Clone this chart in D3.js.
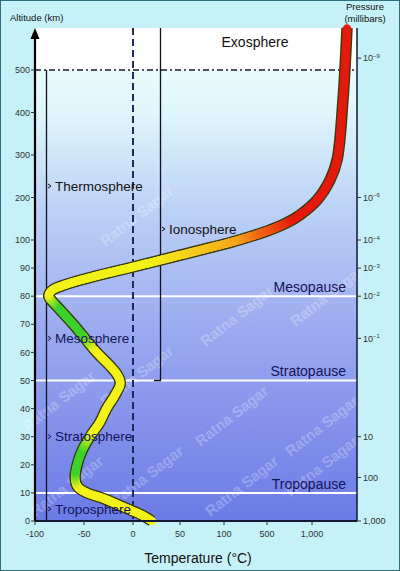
<!DOCTYPE html>
<html>
<head>
<meta charset="utf-8">
<script src="https://cdn.jsdelivr.net/npm/d3@7"></script>
<style>
  body { margin: 0; background: #fff; }
  svg { display: block; font-family: "Liberation Sans", Arial, sans-serif; }
</style>
</head>
<body>
<svg id="chart" width="400" height="571"></svg>
<script>
const width = 400;
const height = 571;

// altitude axis (km)
const altTicks = [0, 10, 20, 30, 40, 50, 60, 70, 80, 90, 100, 200, 300, 400, 500];
// temperature axis (deg C)
const tempTicks = [-100, -50, 0, 50, 100, 500, 1000];
const tempLabels = ["-100", "-50", "0", "50", "100", "500", "1,000"];
// pressure labels (right side) and the altitude they sit at
const pressureAlt = [0, 15.5, 30, 65, 80, 90, 100, 200, 528];
const pressureBase = ["1,000", "100", "10", "10", "10", "10", "10", "10", "10"];
const pressureExp = ["", "", "", "−1", "−2", "−3", "−4", "−6", "−9"];

// temperature profile
const profileAlt = [0, 2, 5, 8, 10, 12, 15, 20, 25, 30, 35, 40, 45, 49, 52, 55, 60, 65, 70, 75, 78, 80, 82, 84, 87, 90.4, 96.4, 99.4, 121, 140.7, 159, 194, 241, 288, 429, 599];
const profileTemp = [20, 10, -10, -30, -47, -56, -59, -57, -52, -44, -34, -27, -18, -13, -16, -23, -37, -49, -61, -74, -82, -86, -83, -70, -40, 0, 73, 184, 500, 722, 867, 1056, 1200, 1278, 1344, 1389];

// layer names
const sphereNames = ["Thermosphere", "Mesosphere", "Stratosphere", "Troposphere"];
const sphereAlt = [227, 65, 30, 4.3];
const pauseNames = ["Mesopause", "Stratopause", "Tropopause"];
const pauseAlt = [80, 50, 10];

const svg = d3.select("#chart");

// non linear scales like the original drawing
const y = d3.scaleLinear().domain([0, 100, 500]).range([521, 240, 70]);
const x = d3.scaleLinear().domain([-100, 0, 50, 100, 500, 1000]).range([35, 133, 180, 224, 267, 312]);

const plotLeft = x(-100), plotRight = 357, plotTop = 28, plotBottom = y(0);

// background
svg.append("rect").attr("width", width).attr("height", height).attr("fill", "#c6f1f8");
svg.append("rect").attr("x", 0.5).attr("y", 0.5).attr("width", width - 1).attr("height", height - 1)
    .attr("fill", "none").attr("stroke", "#2d6f7c");

const defs = svg.append("defs");
const grad = defs.append("linearGradient").attr("id", "sky")
    .attr("x1", 0).attr("y1", 0).attr("x2", 0).attr("y2", 1);
[[0, "#eafcfd"], [0.1, "#def5fb"], [0.3, "#bdd3f5"], [0.55, "#9eaef0"], [0.8, "#8290ea"], [1, "#6b7be6"]]
    .forEach(function(s){ grad.append("stop").attr("offset", s[0]).attr("stop-color", s[1]); });

svg.append("rect").attr("x", plotLeft).attr("y", y(500)).attr("width", plotRight - plotLeft).attr("height", plotBottom - y(500))
    .attr("fill", "url(#sky)");
svg.append("rect").attr("x", plotLeft).attr("y", plotTop).attr("width", plotRight - plotLeft).attr("height", y(500) - plotTop)
    .attr("fill", "#ffffff");

// watermark
const marks = [[140, 220], [240, 320], [330, 300], [62, 405], [140, 380], [235, 420], [325, 430], [70, 490], [150, 480], [245, 490], [325, 470]];
svg.append("g").selectAll("text").data(marks).enter().append("text")
    .attr("transform", function(d){ return `translate(${d[0]},${d[1]}) rotate(-38)`; })
    .attr("text-anchor", "middle")
    .attr("font-size", 15).attr("font-weight", "bold")
    .attr("fill", "#ffffff").attr("opacity", 0.25)
    .text("Ratna Sagar");

// white pause lines
svg.append("g").selectAll("line").data(pauseAlt).enter().append("line")
    .attr("x1", plotLeft).attr("x2", plotRight)
    .attr("y1", function(d){ return y(d); }).attr("y2", function(d){ return y(d); })
    .attr("stroke", "#ffffff").attr("stroke-width", 2);

// 500 km dash-dot line
svg.append("line").attr("x1", plotLeft).attr("x2", plotRight).attr("y1", y(500)).attr("y2", y(500))
    .attr("stroke", "#1a1a2a").attr("stroke-width", 1.3).attr("stroke-dasharray", "6,3,2,3");

// 0 deg dashed line
svg.append("line").attr("x1", x(0)).attr("x2", x(0)).attr("y1", plotTop).attr("y2", plotBottom)
    .attr("stroke", "#1f2a5c").attr("stroke-width", 2).attr("stroke-dasharray", "7,4");

// sphere bracket line
svg.append("line").attr("x1", 46.5).attr("x2", 46.5).attr("y1", y(500)).attr("y2", plotBottom)
    .attr("stroke", "#111122").attr("stroke-width", 1.3);

// ionosphere bracket
svg.append("path")
    .attr("d", `M160.5,${plotTop} V${y(50)} H154`)
    .attr("fill", "none").attr("stroke", "#111122").attr("stroke-width", 1.3);

// temperature curve
const line = d3.line()
    .x(function(d){ return x(d[0]); })
    .y(function(d){ return y(d[1]); })
    .curve(d3.curveCatmullRom.alpha(0.5));
const pts = profileTemp.map(function(t, i){ return [t, profileAlt[i]]; });

svg.append("path").attr("d", line(pts)).attr("fill", "none")
    .attr("stroke", "#3a3a10").attr("stroke-width", 11.5).attr("stroke-linecap", "butt");

const ghost = svg.append("path").attr("d", line(pts)).attr("fill", "none").attr("stroke", "none");
const total = ghost.node().getTotalLength();
const colorByAlt = d3.scaleLinear()
    .domain([0, 13, 18, 26, 32, 62, 67, 77, 81, 92, 100, 115, 150, 600])
    .range(["#f2f21a", "#f2f21a", "#3cd22a", "#3cd22a", "#f2f21a", "#f2f21a", "#3cd22a", "#3cd22a", "#f2f21a", "#f2f21a", "#f7a51c", "#f26a12", "#e41a0c", "#e41a0c"]);
const samples = d3.range(0, total + 1, 2).map(function(l){ return ghost.node().getPointAtLength(Math.min(l, total)); });
const seg = svg.append("g");
for (let i = 0; i < samples.length - 1; i++) {
    const a = samples[i], b = samples[i + 1];
    seg.append("line").attr("x1", a.x).attr("y1", a.y).attr("x2", b.x).attr("y2", b.y)
        .attr("stroke", colorByAlt(y.invert((a.y + b.y) / 2)))
        .attr("stroke-width", 8.5).attr("stroke-linecap", "round");
}

// axes lines
svg.append("line").attr("x1", plotLeft).attr("x2", plotRight).attr("y1", plotBottom).attr("y2", plotBottom)
    .attr("stroke", "#151535").attr("stroke-width", 2);
svg.append("line").attr("x1", plotRight).attr("x2", plotRight).attr("y1", plotTop).attr("y2", plotBottom)
    .attr("stroke", "#151535").attr("stroke-width", 1.5);
svg.append("line").attr("x1", plotLeft).attr("x2", plotLeft).attr("y1", plotTop + 8).attr("y2", plotBottom)
    .attr("stroke", "#000000").attr("stroke-width", 2.2);
svg.append("path").attr("d", `M${plotLeft},${plotTop} L${plotLeft - 4.5},${plotTop + 11} L${plotLeft + 4.5},${plotTop + 11} Z`)
    .attr("fill", "#000000");

// altitude ticks
const yTicks = svg.append("g");
altTicks.forEach(function(a){
    yTicks.append("line").attr("x1", plotLeft - 4).attr("x2", plotLeft).attr("y1", y(a)).attr("y2", y(a))
        .attr("stroke", "#333").attr("stroke-width", 1);
    yTicks.append("text").attr("x", plotLeft - 5).attr("y", y(a)).attr("dy", "0.35em")
        .attr("text-anchor", "end").attr("font-size", 9).attr("fill", "#333").text(a);
});

// temperature ticks
const xTicks = svg.append("g");
tempTicks.forEach(function(t, i){
    xTicks.append("line").attr("x1", x(t)).attr("x2", x(t)).attr("y1", plotBottom).attr("y2", plotBottom + 4)
        .attr("stroke", "#333").attr("stroke-width", 1);
    xTicks.append("text").attr("x", x(t)).attr("y", plotBottom + 16)
        .attr("text-anchor", "middle").attr("font-size", 9).attr("fill", "#333").text(tempLabels[i]);
});

// pressure ticks
const pTicks = svg.append("g");
pressureAlt.forEach(function(a, i){
    pTicks.append("line").attr("x1", plotRight).attr("x2", plotRight + 4).attr("y1", y(a)).attr("y2", y(a))
        .attr("stroke", "#333").attr("stroke-width", 1);
    const t = pTicks.append("text").attr("x", plotRight + 6).attr("y", y(a)).attr("dy", "0.35em")
        .attr("font-size", 9).attr("fill", "#333");
    t.append("tspan").text(pressureBase[i]);
    if (pressureExp[i]) {
        t.append("tspan").attr("dy", "-0.6em").attr("font-size", 6).text(pressureExp[i]);
    }
});

// titles
svg.append("text").attr("x", 10).attr("y", 21).attr("font-size", 9.5).attr("fill", "#111").text("Altitude (km)");
svg.append("text").attr("x", 365).attr("y", 10).attr("text-anchor", "middle").attr("font-size", 9.5).attr("fill", "#111").text("Pressure");
svg.append("text").attr("x", 365).attr("y", 22).attr("text-anchor", "middle").attr("font-size", 9.5).attr("fill", "#111").text("(millibars)");
svg.append("text").attr("x", 198).attr("y", 563).attr("text-anchor", "middle").attr("font-size", 14).attr("fill", "#111").text("Temperature (°C)");

// layer labels
svg.append("text").attr("x", 255).attr("y", 42).attr("dy", "0.35em").attr("text-anchor", "middle")
    .attr("font-size", 14).attr("fill", "#111").text("Exosphere");

const sph = svg.append("g");
sphereNames.forEach(function(n, i){
    const yy = y(sphereAlt[i]);
    sph.append("path").attr("d", `M48,${yy - 2} L51,${yy} L48,${yy + 2}`).attr("fill", "none")
        .attr("stroke", i === 0 ? "#111" : "#1a1a5c").attr("stroke-width", 1);
    sph.append("text").attr("x", 55).attr("y", yy).attr("dy", "0.35em")
        .attr("font-size", 13.5).attr("fill", i === 0 ? "#111" : "#14145a").text(n);
});

svg.append("path").attr("d", `M162,${227} L165,${229} L162,${231}`).attr("fill", "none")
    .attr("stroke", "#111").attr("stroke-width", 1);
svg.append("text").attr("x", 169).attr("y", 229).attr("dy", "0.35em")
    .attr("font-size", 13.5).attr("fill", "#111").text("Ionosphere");

svg.append("g").selectAll("text").data(pauseNames).enter().append("text")
    .attr("x", 346).attr("y", function(d, i){ return y(pauseAlt[i]) - 9; }).attr("dy", "0.35em")
    .attr("text-anchor", "end").attr("font-size", 14).attr("fill", "#14145a")
    .text(function(d){ return d; });
</script>
</body>
</html>
